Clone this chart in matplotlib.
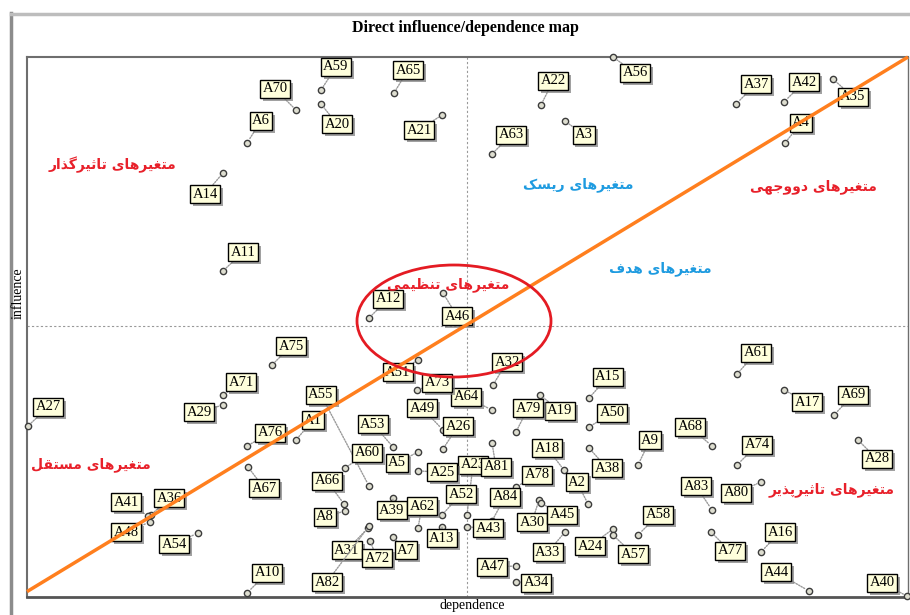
import numpy as np
import matplotlib
matplotlib.use("Agg")
import matplotlib.pyplot as plt
from matplotlib import patheffects
from matplotlib.patches import Ellipse
from matplotlib.lines import Line2D

# variables: dependence (x) and influence (y)
names = ["A1", "A2", "A3", "A4", "A5", "A6", "A7", "A8", "A9", "A10",
         "A11", "A12", "A13", "A14", "A15", "A16", "A17", "A18", "A19", "A20",
         "A21", "A22", "A23", "A24", "A25", "A26", "A27", "A28", "A29", "A30",
         "A31", "A32", "A33", "A34", "A35", "A36", "A37", "A38", "A39", "A40",
         "A41", "A42", "A43", "A44", "A45", "A46", "A47", "A48", "A49", "A50",
         "A51", "A52", "A53", "A54", "A55", "A56", "A57", "A58", "A59", "A60",
         "A61", "A62", "A63", "A64", "A65", "A66", "A67", "A68", "A69", "A70",
         "A71", "A72", "A73", "A74", "A75", "A76", "A77", "A78", "A79", "A80",
         "A81", "A82", "A83", "A84"]
dependence = [269, 561, 538, 758, 391, 220, 366, 318, 611, 220,
              196, 342, 415, 196, 562, 734, 757, 537, 513, 294,
              415, 514, 440, 586, 391, 416, 1, 831, 196, 512,
              341, 466, 538, 489, 806, 124, 709, 562, 366, 880,
              121, 757, 440, 782, 514, 416, 489, 123, 416, 562,
              391, 415, 366, 171, 342, 586, 586, 611, 294, 318,
              710, 391, 465, 465, 367, 317, 221, 685, 807, 269,
              196, 343, 390, 710, 245, 220, 684, 489, 489, 734,
              465, 342, 685, 465]
influence = [157, 93, 476, 454, 145, 454, 60, 86, 132, 4,
             326, 279, 70, 424, 199, 45, 207, 127, 202, 493,
             482, 492, 82, 68, 126, 148, 171, 157, 192, 97,
             69, 212, 65, 15, 518, 82, 493, 149, 99, 1,
             81, 495, 70, 6, 94, 304, 31, 75, 167, 170,
             237, 82, 150, 64, 111, 540, 62, 62, 507, 129,
             223, 69, 443, 187, 504, 93, 130, 151, 182, 487,
             202, 56, 207, 132, 232, 151, 65, 110, 165, 115,
             154, 71, 87, 76]

# label placement (pixel offsets from each point)
label_off = {
    "A1": (17, 20), "A2": (-11, 22), "A3": (19, -14), "A4": (16, 20), "A5": (-21, -11),
    "A6": (14, 22), "A7": (13, -13), "A8": (-20, -6), "A9": (12, 25), "A10": (20, 20),
    "A11": (20, 19), "A12": (19, 19), "A13": (0, -11), "A14": (-18, -21), "A15": (19, 21),
    "A16": (19, 20), "A17": (23, -12), "A18": (-17, 22), "A19": (20, -16), "A20": (16, -20),
    "A21": (-23, -15), "A22": (12, 24), "A23": (6, 50), "A24": (-23, -17), "A25": (24, -1),
    "A26": (15, 23), "A27": (20, 19), "A28": (19, -19), "A29": (-24, -7), "A30": (-7, -22),
    "A31": (-21, -22), "A32": (14, 23), "A33": (-17, -20), "A34": (20, -1), "A35": (20, -18),
    "A36": (18, 17), "A37": (20, 20), "A38": (18, -20), "A39": (-1, -12), "A40": (-25, 13),
    "A41": (-22, 14), "A42": (20, 20), "A43": (21, -1), "A44": (-33, 19), "A45": (21, -12),
    "A46": (14, -23), "A47": (-24, -1), "A48": (-24, -10), "A49": (-21, 22), "A50": (23, 14),
    "A51": (-20, -12), "A52": (19, 21), "A53": (-20, 23), "A54": (-24, -11), "A55": (-48, 91),
    "A56": (22, -16), "A57": (20, -19), "A58": (20, 20), "A59": (15, 23), "A60": (22, 15),
    "A61": (19, 21), "A62": (4, 22), "A63": (19, 19), "A64": (-26, 13), "A65": (14, 23),
    "A66": (-17, 23), "A67": (16, -21), "A68": (-22, 19), "A69": (19, 20), "A70": (-21, 21),
    "A71": (18, 13), "A72": (7, -17), "A73": (20, 7), "A74": (20, 20), "A75": (19, 19),
    "A76": (23, 13), "A77": (19, -19), "A78": (21, 12), "A79": (12, 24), "A80": (-25, -11),
    "A81": (4, -24), "A82": (-42, -56), "A83": (-16, 24), "A84": (13, 24),
}

zone_labels = ["متغیرهای تاثیرگذار", "متغیرهای ریسک", "متغیرهای دووجهی", "متغیرهای هدف",
               "متغیرهای تنظیمی", "متغیرهای مستقل", "متغیرهای تاثیرپذیر"]
zone_pos = [(85, 432), (551, 412), (786, 410), (633, 328), (421, 312), (64, 132), (805, 107)]
zone_col = ["#e8202a", "#1e9be0", "#e8202a", "#1e9be0", "#e8202a", "#e8202a", "#e8202a"]

# --- tiny persian shaper (no arabic_reshaper available) ---
FORMS = {
    '\u0627': ('\uFE8D', '\uFE8E', None, None),
    '\u0628': ('\uFE8F', '\uFE90', '\uFE91', '\uFE92'),
    '\u067E': ('\uFB56', '\uFB57', '\uFB58', '\uFB59'),
    '\u062A': ('\uFE95', '\uFE96', '\uFE97', '\uFE98'),
    '\u062B': ('\uFE99', '\uFE9A', '\uFE9B', '\uFE9C'),
    '\u062C': ('\uFE9D', '\uFE9E', '\uFE9F', '\uFEA0'),
    '\u062F': ('\uFEA9', '\uFEAA', None, None),
    '\u0630': ('\uFEAB', '\uFEAC', None, None),
    '\u0631': ('\uFEAD', '\uFEAE', None, None),
    '\u0632': ('\uFEAF', '\uFEB0', None, None),
    '\u0633': ('\uFEB1', '\uFEB2', '\uFEB3', '\uFEB4'),
    '\u0638': ('\uFEC5', '\uFEC6', '\uFEC7', '\uFEC8'),
    '\u063A': ('\uFECD', '\uFECE', '\uFECF', '\uFED0'),
    '\u0641': ('\uFED1', '\uFED2', '\uFED3', '\uFED4'),
    '\u0642': ('\uFED5', '\uFED6', '\uFED7', '\uFED8'),
    '\u06A9': ('\uFB8E', '\uFB8F', '\uFB90', '\uFB91'),
    '\u06AF': ('\uFB92', '\uFB93', '\uFB94', '\uFB95'),
    '\u0644': ('\uFEDD', '\uFEDE', '\uFEDF', '\uFEE0'),
    '\u0645': ('\uFEE1', '\uFEE2', '\uFEE3', '\uFEE4'),
    '\u0646': ('\uFEE5', '\uFEE6', '\uFEE7', '\uFEE8'),
    '\u0647': ('\uFEE9', '\uFEEA', '\uFEEB', '\uFEEC'),
    '\u0648': ('\uFEED', '\uFEEE', None, None),
    '\u06CC': ('\uFBFC', '\uFBFD', '\uFBFE', '\uFBFF'),
}


def shape_fa(text):
    out = []
    for i, ch in enumerate(text):
        f = FORMS.get(ch)
        if f is None:
            out.append(ch)
            continue
        prev = text[i - 1] if i > 0 else ''
        nxt = text[i + 1] if i < len(text) - 1 else ''
        jp = prev in FORMS and FORMS[prev][2] is not None
        jn = f[2] is not None and nxt in FORMS
        if jp and jn:
            out.append(f[3])
        elif jp:
            out.append(f[1])
        elif jn:
            out.append(f[2])
        else:
            out.append(f[0])
    return ''.join(reversed(out))


fig = plt.figure(figsize=(9.1, 6.15), dpi=100)
ax = fig.add_axes([27 / 910, 18 / 615, 881 / 910, 540 / 615])
ax.set_xlim(0, 881)
ax.set_ylim(0, 540)
ax.set_xticks([])
ax.set_yticks([])
for side in ["left", "top", "right"]:
    ax.spines[side].set_color("#6e6e6e")
    ax.spines[side].set_linewidth(1.5)
ax.spines["right"].set_linewidth(1)
ax.spines["bottom"].set_color("#555555")
ax.spines["bottom"].set_linewidth(2)

# outer frame of the window
fig.add_artist(Line2D([11 / 910, 11 / 910], [0, 1 - 13 / 615], color="#8c8c8c", lw=2.5))
fig.add_artist(Line2D([11 / 910, 1], [1 - 14 / 615, 1 - 14 / 615], color="#bdbdbd", lw=2.5))

# quadrant lines through the means
ax.axvline(440, color="#999999", lw=0.8, ls=(0, (2, 2)), zorder=1)
ax.axhline(271, color="#999999", lw=0.8, ls=(0, (2, 2)), zorder=1)

ax.plot([0, 1], [0.01, 1], transform=ax.transAxes, color="#ff7f1e", lw=2.5,
        zorder=6, clip_on=False, solid_capstyle="butt")

ax.add_patch(Ellipse((427, 276), 194, 112, fill=False, ec="#e41b23", lw=2, zorder=6))

ax.plot(dependence, influence, "o", ms=4.5, mfc="#deded0", mec="#3c3c3c", mew=1,
        zorder=3, clip_on=False)

for name, x, y in zip(names, dependence, influence):
    dx, dy = label_off[name]
    ann = ax.annotate(name, (x, y), xytext=(dx, dy), textcoords="offset pixels",
                      ha="center", va="center", fontsize=10.5, family="Liberation Serif",
                      color="black", zorder=4, annotation_clip=False,
                      bbox=dict(boxstyle="square,pad=0.16", fc="#ffffdc", ec="black", lw=1),
                      arrowprops=dict(arrowstyle="-", color="#9a9a9a", lw=1,
                                      ls=(0, (1, 1)), shrinkA=0, shrinkB=3))
    ann.get_bbox_patch().set_path_effects([
        patheffects.SimplePatchShadow(offset=(2, -2), shadow_rgbFace="#7a7a7a", alpha=0.7),
        patheffects.Normal()])

for txt, (x, y), c in zip(zone_labels, zone_pos, zone_col):
    ax.text(x, y, shape_fa(txt), ha="center", va="center", color=c, fontsize=10,
            fontweight="bold", family="DejaVu Sans", zorder=5)

fig.text(465 / 910, 1 - 28 / 615, "Direct influence/dependence map", ha="center", va="center",
         fontsize=11.5, fontweight="bold", family="Liberation Serif")
fig.text(472 / 910, 1 - 606 / 615, "dependence", ha="center", va="center",
         fontsize=10, family="Liberation Serif")
fig.text(18 / 910, 1 - 293 / 615, "influence", ha="center", va="center", rotation=90,
         fontsize=10, family="Liberation Serif")

fig.savefig("out.png", dpi=100)
